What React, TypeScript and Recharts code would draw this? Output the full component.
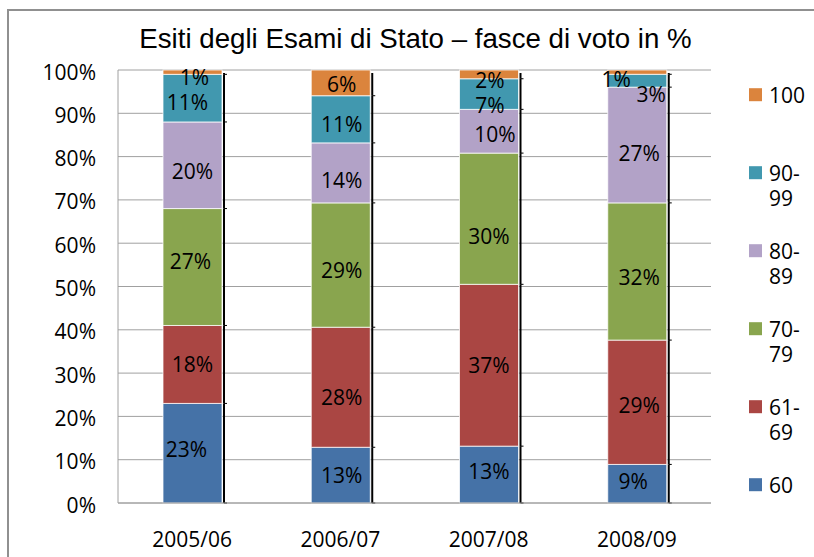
import React from 'react';
import { BarChart, Bar, XAxis, YAxis, CartesianGrid, LabelList } from 'recharts';

// ---- data ----
const categories = ['2005/06', '2006/07', '2007/08', '2008/09'];
const v60 = [23, 13, 13, 9];
const v61_69 = [18, 28, 37, 29];
const v70_79 = [27, 29, 30, 32];
const v80_89 = [20, 14, 10, 27];
const v90_99 = [11, 11, 7, 3];
const v100 = [1, 6, 2, 1];
const yTicks = [0, 0.1, 0.2, 0.3, 0.4, 0.5, 0.6, 0.7, 0.8, 0.9, 1];
const seriesNames = ['60', '61-69', '70-79', '80-89', '90-99', '100'];
const seriesValues = [v60, v61_69, v70_79, v80_89, v90_99, v100];
const seriesKeys = ['s60', 's6169', 's7079', 's8089', 's9099', 's100'];

// ---- styles ----
const colors = ['#4572A7', '#AA4643', '#89A54E', '#B2A2C7', '#4198AF', '#DB843D'];
const labelOffsets: number[][][] = [
  [[-6, -4], [1, 0], [0, -3], [-4, -2]],
  [[0, 0], [1, 10], [0, 0], [2, 3]],
  [[-2, -5], [1, 5], [0, 18], [2, 6]],
  [[0, 6], [1, 8], [6, 3], [2, 9]],
  [[-5, 4], [1, 5], [1, 11], [14, 14]],
  [[2, 5], [1, 2], [1, 6], [-21, 7]],
];
const FONT = '"Open Sans", sans-serif';
const GRID = '#A0A0A0';

const data = categories.map((c, i) => {
  const row: Record<string, string | number> = { name: c };
  seriesKeys.forEach((k, s) => {
    row[k] = seriesValues[s][i];
  });
  return row;
});

const makeShape = (isTop: boolean) => (props: any) => {
  const { x, y, width, height, fill } = props;
  const lx = x + width + 2;
  return (
    <g>
      <rect x={x} y={y} width={width} height={height} fill={fill} stroke="#FFFFFF" strokeOpacity={0.75} strokeWidth={1} />
      <line x1={lx} x2={lx} y1={isTop ? y + 3 : y} y2={y + height + (props.index >= 0 && !isTop ? 0 : 0)} stroke="#000" strokeWidth={2} />
      <line x1={lx} x2={lx + 3} y1={y + height} y2={y + height} stroke="#000" strokeWidth={1} />
    </g>
  );
};

const makeLabel = (s: number) => (props: any) => {
  const { x, y, width, height, index } = props;
  const off = labelOffsets[s][index] || [0, 0];
  return (
    <text
      x={x + width / 2 + off[0]}
      y={y + height / 2 + off[1]}
      dy="0.355em"
      textAnchor="middle"
      fontFamily={FONT}
      fontSize={21}
      fill="#000"
    >
      {seriesValues[s][index]}%
    </text>
  );
};

const YTick = (props: any) => {
  const { x, y, payload } = props;
  return (
    <text x={x} y={y} dy={9.5} textAnchor="end" fontFamily={FONT} fontSize={21} fill="#000">
      {Math.round(payload.value * 100)}%
    </text>
  );
};

const XTick = (props: any) => {
  const { x, y, payload } = props;
  return (
    <text x={x} y={y} dy={44} textAnchor="middle" fontFamily={FONT} fontSize={21} fill="#000">
      {payload.value}
    </text>
  );
};

export default function App() {
  const legendOrder = [5, 4, 3, 2, 1, 0];
  return (
    <div style={{ position: 'absolute', left: 0, top: 0, width: 814, height: 557, overflow: 'hidden', background: '#fff' }}>
      <div
        style={{
          position: 'absolute',
          left: 7,
          top: 9,
          width: 900,
          height: 700,
          border: '2px solid #909090',
          boxSizing: 'border-box',
        }}
      />
      <div style={{ position: 'absolute', left: 0, top: 0 }}>
        <BarChart
          width={814}
          height={557}
          data={data}
          stackOffset="expand"
          margin={{ top: 70, right: 103, bottom: 0, left: 0 }}
          barSize={59}
        >
          <CartesianGrid vertical={false} stroke={GRID} strokeWidth={1} />
          <XAxis
            dataKey="name"
            height={54}
            tickLine={false}
            tickSize={0}
            tickMargin={0}
            axisLine={{ stroke: GRID }}
            tick={<XTick />}
            interval={0}
          />
          <YAxis
            type="number"
            domain={[0, 1]}
            ticks={yTicks}
            width={118}
            tickLine={false}
            tickSize={0}
            tickMargin={22}
            axisLine={{ stroke: GRID }}
            tick={<YTick />}
            interval={0}
          />
          {seriesKeys.map((k, s) => (
            <Bar
              key={k}
              dataKey={k}
              name={seriesNames[s]}
              stackId="a"
              fill={colors[s]}
              isAnimationActive={false}
              shape={makeShape(s === seriesKeys.length - 1)}
            >
              <LabelList dataKey={k} content={makeLabel(s)} />
            </Bar>
          ))}
        </BarChart>
      </div>
      <svg width={814} height={557} style={{ position: 'absolute', left: 0, top: 0, pointerEvents: 'none' }}>
        <text x={415.5} y={48.3} textAnchor="middle" fontFamily='"Liberation Sans", Arial, sans-serif' fontSize={27.7} fill="#000">
          Esiti degli Esami di Stato – fasce di voto in %
        </text>
        {legendOrder.map((s, i) => {
          const cy = 94.7 + 78 * i;
          const name = seriesNames[s];
          const parts = name.includes('-') ? [name.split('-')[0] + '-', name.split('-')[1]] : [name];
          return (
            <g key={name}>
              <rect x={749} y={cy - 6.5} width={13} height={13} fill={colors[s]} />
              {parts.map((p, j) => (
                <text key={j} x={769} y={cy + 8.5 + 25 * j} fontFamily={FONT} fontSize={21} fill="#000">
                  {p}
                </text>
              ))}
            </g>
          );
        })}
      </svg>
    </div>
  );
}
